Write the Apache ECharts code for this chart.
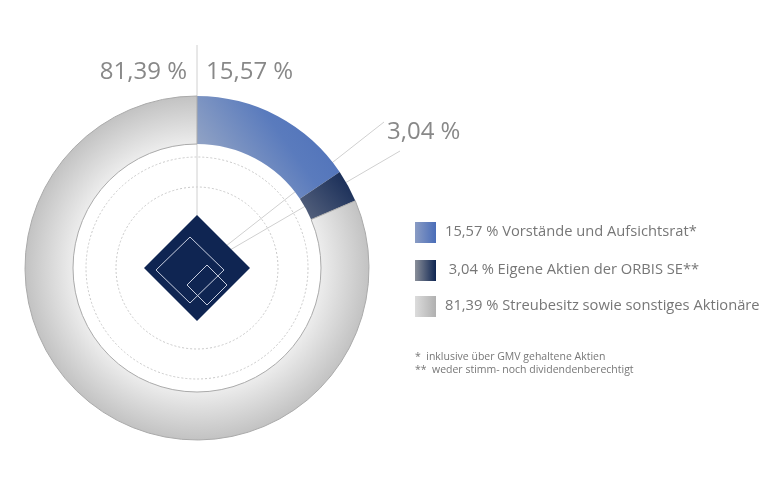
<!DOCTYPE html><html><head><meta charset="utf-8"><script src="https://cdn.jsdelivr.net/npm/echarts@6/dist/echarts.min.js"></script>
<style>html,body{margin:0;background:#fff}#c{width:780px;height:488px}</style></head><body><div id="c"></div><script>
const categories=['Vorstände und Aufsichtsrat*','Eigene Aktien der ORBIS SE**','Streubesitz sowie sonstiges Aktionäre'];
const values=[15.57,3.04,81.39];
const labels=['15,57 %','3,04 %','81,39 %'];
const notes=['*  inklusive über GMV gehaltene Aktien','**  weder stimm- noch dividendenberechtigt'];
const F='"Open Sans", sans-serif';
const grads=[
 {type:'linear',x:0,y:1,x2:1,y2:0,colorStops:[{offset:0,color:'#a9b4c8'},{offset:0.6,color:'#5a7bbd'},{offset:1,color:'#4a6db8'}]},
 {type:'linear',x:0,y:1,x2:1,y2:0,colorStops:[{offset:0,color:'#5a6680'},{offset:1,color:'#0f2552'}]},
 {type:'radial',x:0.5,y:0.5,r:0.5,global:false,colorStops:[{offset:0.72,color:'#ececec'},{offset:1,color:'#c2c2c2'}]}
];
const legGrads=[
 {type:'linear',x:0,y:0,x2:1,y2:0,colorStops:[{offset:0,color:'#8a9cc4'},{offset:1,color:'#4a6db8'}]},
 {type:'linear',x:0,y:0,x2:1,y2:0,colorStops:[{offset:0,color:'#8a8f99'},{offset:1,color:'#0f2552'}]},
 {type:'linear',x:0,y:0,x2:1,y2:0,colorStops:[{offset:0,color:'#dcdcdc'},{offset:1,color:'#b0b0b0'}]}
];
const cx=197,cy=268;
const g=[];
g.push({type:'circle',shape:{cx:cx,cy:cy,r:111},style:{fill:null,stroke:'#c8c8c8',lineWidth:1,lineDash:[2,2]},z:1});
g.push({type:'circle',shape:{cx:cx,cy:cy,r:81},style:{fill:null,stroke:'#c8c8c8',lineWidth:1,lineDash:[2,2]},z:1});
g.push({type:'line',shape:{x1:cx,y1:45,x2:cx,y2:cy},style:{stroke:'#d0d0d0',lineWidth:1},z:2});
g.push({type:'line',shape:{x1:226,y1:246,x2:384,y2:122},style:{stroke:'#d0d0d0',lineWidth:1},z:2});
g.push({type:'line',shape:{x1:230,y1:250,x2:400,y2:151},style:{stroke:'#d0d0d0',lineWidth:1},z:2});
g.push({type:'polygon',shape:{points:[[cx,215],[250,cy],[cx,321],[144,cy]]},style:{fill:'#0f2552'},z:5});
g.push({type:'polygon',shape:{points:[[190,237],[224,270],[190,303],[156,270]]},style:{fill:null,stroke:'#c8cfe0',lineWidth:1},z:6});
g.push({type:'polygon',shape:{points:[[207,265],[227,285],[207,305],[187,285]]},style:{fill:null,stroke:'#c8cfe0',lineWidth:1},z:6});
g.push({type:'text',style:{text:labels[2],x:187,y:72,align:'right',verticalAlign:'middle',font:'24px '+F,fill:'#888'}});
g.push({type:'text',style:{text:labels[0],x:206,y:72,align:'left',verticalAlign:'middle',font:'24px '+F,fill:'#888'}});
g.push({type:'text',style:{text:labels[1],x:387,y:132,align:'left',verticalAlign:'middle',font:'24px '+F,fill:'#888'}});
const ly=[232,270,306];
const lt=[labels[0]+' '+categories[0],' '+labels[1]+' '+categories[1],labels[2]+' '+categories[2]];
for(let i=0;i<3;i++){
 g.push({type:'rect',shape:{x:415,y:ly[i]-10,width:21,height:21},style:{fill:legGrads[i]}});
 g.push({type:'text',style:{text:lt[i],x:445,y:ly[i],verticalAlign:'middle',font:'14.7px '+F,fill:'#777'}});
}
g.push({type:'text',style:{text:notes[0],x:415,y:357,verticalAlign:'middle',font:'10.5px '+F,fill:'#777'}});
g.push({type:'text',style:{text:notes[1],x:415,y:370,verticalAlign:'middle',font:'10.5px '+F,fill:'#777'}});
const chart=echarts.init(document.getElementById('c'));
chart.setOption({animation:false,graphic:g,series:[{type:'pie',center:[cx,cy],radius:[124,172],startAngle:90,clockwise:true,label:{show:false},labelLine:{show:false},silent:true,z:3,
 data:values.map((v,i)=>({name:categories[i],value:v,itemStyle:{color:grads[i],borderColor:i==2?'#aaa':'rgba(0,0,0,0)',borderWidth:i==2?1:0}}))}]});
</script></body></html>
